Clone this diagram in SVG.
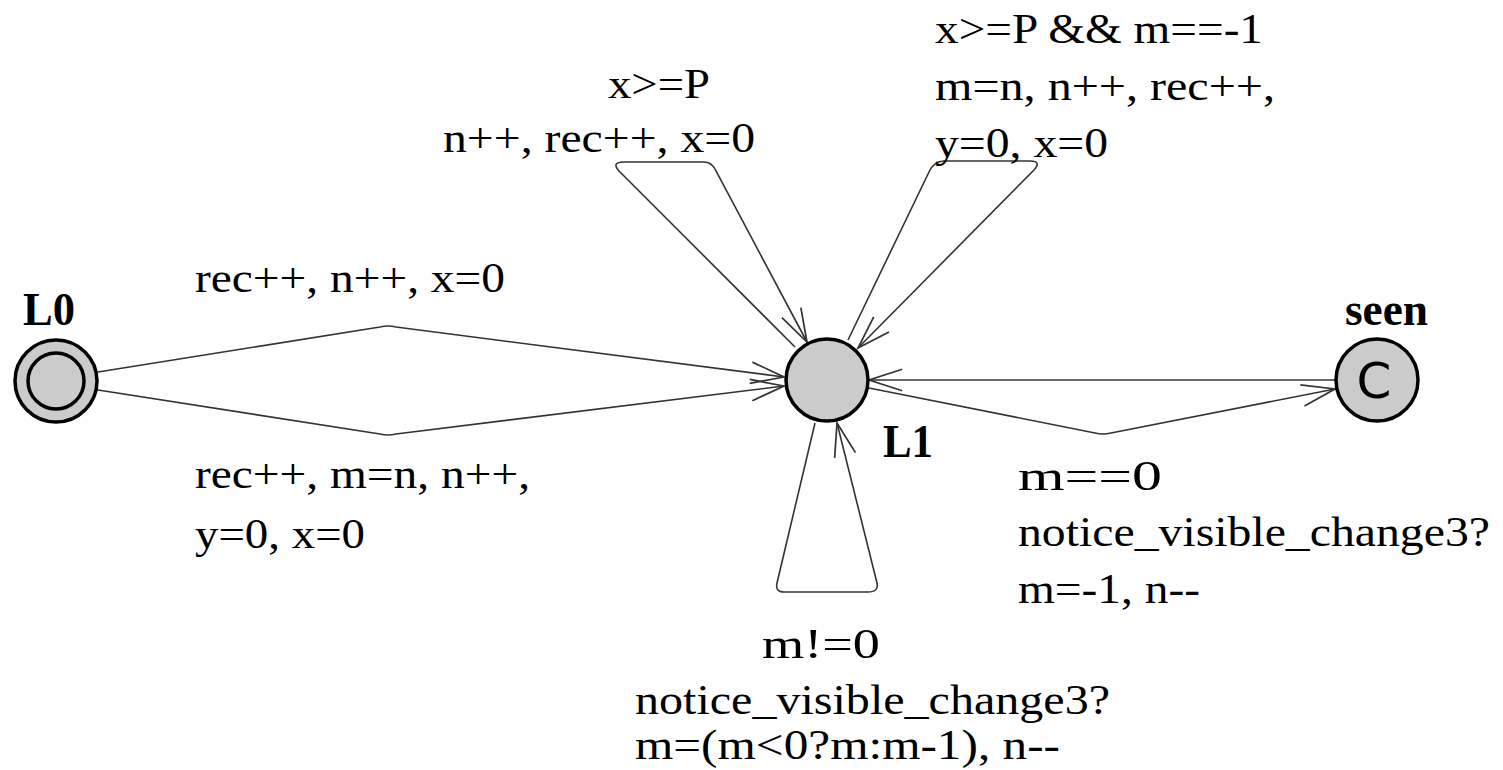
<svg xmlns="http://www.w3.org/2000/svg" width="1503" height="770" viewBox="0 0 1503 770">
<defs>
<style>
.t{font-family:"Liberation Serif","Times New Roman",serif;font-size:43px;fill:#000}
.b{font-family:"Liberation Serif","Times New Roman",serif;font-size:46px;font-weight:bold;fill:#000}
.n{fill:#cbcbcb;stroke:#000;stroke-width:3.5}
.e{fill:none;stroke:#333;stroke-width:1.6}
</style>
<marker id="ar" markerUnits="userSpaceOnUse" markerWidth="40" markerHeight="30" refX="0" refY="0" viewBox="-34 -14 36 28" orient="auto">
<path d="M -31 -10 L 0 0 L -31 10" fill="none" stroke="#333" stroke-width="1.6"/>
</marker>
</defs>
<rect width="1503" height="770" fill="#fff"/>
<g id="connectors">
<path class="e" d="M 98 372 L 380 327 Q 388 325 396 327 L 784 377" marker-end="url(#ar)"/>
<path class="e" d="M 98 390 L 380 434 Q 388 436 396 434 L 784 386" marker-end="url(#ar)"/>
<path class="e" d="M 795 347 L 619 171 Q 611 162 624 162 L 704 162 Q 712 162 716 171 L 807 342" marker-end="url(#ar)"/>
<path class="e" d="M 848 340 L 929 172 Q 934 161 944 161 L 1030 161 Q 1042 161 1034 170 L 858 348" marker-end="url(#ar)"/>
<path class="e" d="M 815 423 L 777 583 Q 775 592 784 592 L 868 592 Q 879 592 877 583 L 837 423" marker-end="url(#ar)"/>
<path class="e" d="M 869 388 L 1095 433 Q 1103 435 1111 433 L 1335 389" marker-end="url(#ar)"/>
<path class="e" d="M 1335 380 L 869 380" marker-end="url(#ar)"/>
</g>
<g id="L0">
<circle class="n" cx="56" cy="381" r="41"/>
<circle class="n" cx="56" cy="381" r="28"/>
<text class="b" x="23" y="325" textLength="52" lengthAdjust="spacingAndGlyphs">L0</text>
</g>
<g id="L1">
<circle class="n" cx="827" cy="380" r="41"/>
<text class="b" x="883" y="457" textLength="50" lengthAdjust="spacingAndGlyphs">L1</text>
</g>
<g id="seen">
<circle class="n" cx="1377" cy="380" r="41"/>
<text x="1374" y="398" text-anchor="middle" font-family="DejaVu Sans, sans-serif" font-size="50" fill="#000">C</text>
<text class="b" x="1345" y="325" textLength="83" lengthAdjust="spacingAndGlyphs">seen</text>
</g>
<g id="labels">
<text class="t" x="935" y="43" textLength="328" lengthAdjust="spacingAndGlyphs">x&gt;=P &amp;&amp; m==-1</text>
<text class="t" x="935" y="100" textLength="340" lengthAdjust="spacingAndGlyphs">m=n, n++, rec++,</text>
<text class="t" x="935" y="157" textLength="173" lengthAdjust="spacingAndGlyphs">y=0, x=0</text>
<text class="t" x="608" y="98" textLength="102" lengthAdjust="spacingAndGlyphs">x&gt;=P</text>
<text class="t" x="443" y="152" textLength="312" lengthAdjust="spacingAndGlyphs">n++, rec++, x=0</text>
<text class="t" x="195" y="292" textLength="310" lengthAdjust="spacingAndGlyphs">rec++, n++, x=0</text>
<text class="t" x="195" y="488" textLength="335" lengthAdjust="spacingAndGlyphs">rec++, m=n, n++,</text>
<text class="t" x="195" y="548" textLength="170" lengthAdjust="spacingAndGlyphs">y=0, x=0</text>
<text class="t" x="1018" y="490" textLength="144" lengthAdjust="spacingAndGlyphs">m==0</text>
<text class="t" x="1018" y="546" textLength="472" lengthAdjust="spacingAndGlyphs">notice_visible_change3?</text>
<text class="t" x="1018" y="603" textLength="182" lengthAdjust="spacingAndGlyphs">m=-1, n--</text>
<text class="t" x="762" y="658" textLength="118" lengthAdjust="spacingAndGlyphs">m!=0</text>
<text class="t" x="635" y="714" textLength="475" lengthAdjust="spacingAndGlyphs">notice_visible_change3?</text>
<text class="t" x="635" y="759" textLength="425" lengthAdjust="spacingAndGlyphs">m=(m&lt;0?m:m-1), n--</text>
</g>
</svg>
